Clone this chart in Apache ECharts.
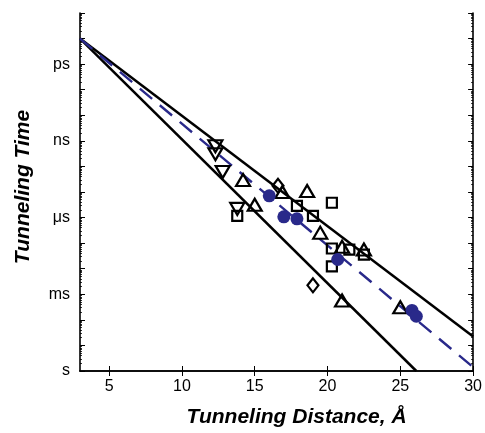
<!DOCTYPE html>
<html>
<head>
<meta charset="utf-8">
<script src="https://cdn.jsdelivr.net/npm/echarts@6/dist/echarts.min.js"></script>
<style>
  html, body { margin: 0; padding: 0; background: #fff; }
  #chart { width: 485px; height: 433px; }
</style>
</head>
<body>
<div id="chart"></div>
<script>
// Tunneling distance (Å) and log10 of tunneling time (s) for each marker group
var triDownX = [12.3, 12.3, 12.8, 13.8];
var triDownY = [-8.79, -8.48, -7.78, -6.34];

var squareX = [13.8, 17.9, 19.0, 20.3, 20.3, 21.5, 20.3, 22.5];
var squareY = [-6.07, -6.46, -6.07, -6.58, -4.79, -4.75, -4.09, -4.55];

var triUpX = [14.2, 15.0, 16.9, 18.6, 19.5, 21.0, 22.5, 21.0, 25.0];
var triUpY = [-7.47, -6.50, -7.00, -7.04, -5.41, -4.86, -4.75, -2.76, -2.49];

var diamondX = [16.6, 19.0];
var diamondY = [-7.24, -3.35];

var circleX = [16.0, 17.0, 17.9, 20.7, 25.8, 26.1];
var circleY = [-6.85, -6.03, -5.95, -4.36, -2.37, -2.14];

// Decay lines: start and end points (distance, log10 time)
var upperLineX = [3, 30];
var upperLineY = [-13, -1.35];
var meanLineX = [3, 30];
var meanLineY = [-13, -0.15];
var lowerLineX = [3, 26.1];
var lowerLineY = [-13, 0];

// Axis ticks and labels
var xTicks = [5, 10, 15, 20, 25, 30];
var yDecades = [-14, -13, -12, -11, -10, -9, -8, -7, -6, -5, -4, -3, -2, -1, 0];
var yLabelValues = [-12, -9, -6, -3, 0];
var yLabelNames = ['ps', 'ns', 'μs', 'ms', 's'];

function zip(xs, ys) {
  return xs.map(function (x, i) { return [x, ys[i]]; });
}

// Logarithmic sub-ticks (2..9) within each decade; the axis runs toward
// shorter times going up, so sub-ticks sit at d + 1 - log10(k) on the exponent scale
var yMinor = [];
yDecades.forEach(function (d) {
  if (d >= 0) return;
  for (var k = 2; k <= 9; k++) {
    yMinor.push(d + 1 - Math.log10(k));
  }
});

var axisLineStyle = { color: '#000', width: 1.6 };
var font = 'Liberation Sans, Arial, Helvetica, sans-serif';
var navy = '#29298a';

var chart = echarts.init(document.getElementById('chart'), null, { renderer: 'canvas' });

function openSymbol() {
  return { color: 'rgba(255,255,255,0)', borderColor: '#000', borderWidth: 2.2, opacity: 1 };
}

var option = {
  animation: false,
  backgroundColor: '#fff',
  grid: { left: 80, right: 10, top: 13, bottom: 60 },
  xAxis: [
    {
      type: 'value', min: 3, max: 30, position: 'bottom',
      name: 'Tunneling Distance, Å', nameLocation: 'middle', nameGap: 36,
      nameTextStyle: { fontFamily: font, fontSize: 21, fontWeight: 'bold', fontStyle: 'italic', color: '#000', padding: [0, 0, 0, 40] },
      axisLine: { lineStyle: axisLineStyle },
      axisTick: { inside: true, length: 5, lineStyle: { color: '#000', width: 1 }, customValues: xTicks },
      axisLabel: { fontFamily: font, fontSize: 16, color: '#000', margin: 8, customValues: xTicks },
      splitLine: { show: false }
    },
    {
      type: 'value', min: 3, max: 30, position: 'top',
      axisLine: { lineStyle: axisLineStyle },
      axisTick: { inside: true, length: 5, lineStyle: { color: '#000', width: 1 }, customValues: xTicks },
      axisLabel: { show: false },
      splitLine: { show: false }
    }
  ],
  yAxis: [
    {
      type: 'value', min: -14, max: 0, interval: 1, inverse: true, position: 'left',
      name: 'Tunneling Time', nameLocation: 'middle', nameGap: 46, nameRotate: 90,
      nameTextStyle: { fontFamily: font, fontSize: 21, fontWeight: 'bold', fontStyle: 'italic', color: '#000', padding: [0, 0, 0, 10] },
      axisLine: { lineStyle: axisLineStyle },
      axisTick: { inside: true, length: 5, lineStyle: { color: '#000', width: 1 }, customValues: yDecades },
      axisLabel: {
        fontFamily: font, fontSize: 16, color: '#000', margin: 10,
        customValues: yLabelValues,
        formatter: function (v) {
          var i = yLabelValues.indexOf(v);
          return i >= 0 ? yLabelNames[i] : '';
        }
      },
      splitLine: { show: false }
    },
    {
      type: 'value', min: -14, max: 0, interval: 1, inverse: true, position: 'right',
      axisLine: { lineStyle: axisLineStyle },
      axisTick: { inside: true, length: 5, lineStyle: { color: '#000', width: 1 }, customValues: yDecades },
      axisLabel: { show: false },
      splitLine: { show: false }
    },
    {
      type: 'value', min: -14, max: 0, inverse: true, position: 'left',
      axisLine: { show: false },
      axisTick: { inside: true, length: 2, lineStyle: { color: '#000', width: 0.8 }, customValues: yMinor },
      axisLabel: { show: false },
      splitLine: { show: false }
    },
    {
      type: 'value', min: -14, max: 0, inverse: true, position: 'right',
      axisLine: { show: false },
      axisTick: { inside: true, length: 2, lineStyle: { color: '#000', width: 0.8 }, customValues: yMinor },
      axisLabel: { show: false },
      splitLine: { show: false }
    }
  ],
  series: [
    {
      type: 'line', data: zip(upperLineX, upperLineY), symbol: 'none',
      lineStyle: { color: '#000', width: 2.5 }, z: 2
    },
    {
      type: 'line', data: zip(lowerLineX, lowerLineY), symbol: 'none',
      lineStyle: { color: '#000', width: 2.5 }, z: 2
    },
    {
      type: 'line', data: zip(meanLineX, meanLineY), symbol: 'none',
      lineStyle: { color: navy, width: 2.4, type: [16, 10] }, z: 2
    },
    {
      type: 'scatter', data: zip(triDownX, triDownY), symbol: 'triangle', symbolRotate: 180,
      symbolSize: [14, 12], itemStyle: openSymbol(), z: 3
    },
    {
      type: 'scatter', data: zip(squareX, squareY), symbol: 'rect',
      symbolSize: 10, itemStyle: openSymbol(), z: 3
    },
    {
      type: 'scatter', data: zip(triUpX, triUpY), symbol: 'triangle',
      symbolSize: [14, 12], itemStyle: openSymbol(), z: 3
    },
    {
      type: 'scatter', data: zip(diamondX, diamondY), symbol: 'diamond',
      symbolSize: [11, 14], itemStyle: openSymbol(), z: 3
    },
    {
      type: 'scatter', data: zip(circleX, circleY), symbol: 'circle',
      symbolSize: 13, itemStyle: { color: navy, opacity: 1 }, z: 4
    }
  ]
};

chart.setOption(option);
</script>
</body>
</html>
